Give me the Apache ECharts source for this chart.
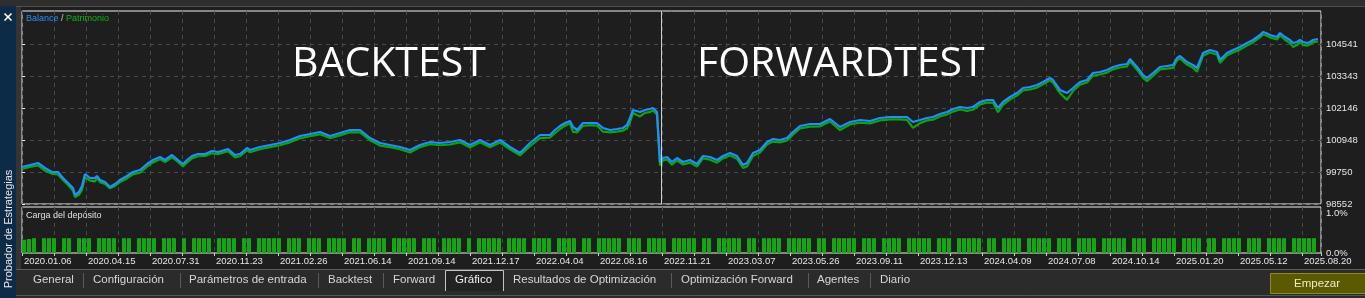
<!DOCTYPE html>
<html><head><meta charset="utf-8">
<script src="https://cdn.jsdelivr.net/npm/echarts@6/dist/echarts.min.js"></script>
<style>html,body{margin:0;padding:0;background:#1e1e1e;overflow:hidden}#c{width:1365px;height:298px}</style>
</head><body><div id="c"></div>
<script>
// ---- data (x = deal number along the tester graph) ----
const dealIndex = [0,8,16,23,30,36,41,46,51,53,57,60,63,68,73,75,78,83,88,93,98,105,111,118,125,131,138,143,150,156,161,165,170,176,183,190,196,206,213,218,225,228,238,248,258,268,278,288,298,308,318,328,338,348,358,368,378,388,398,408,418,428,438,448,458,468,478,488,498,508,518,528,533,538,543,548,551,555,561,568,575,581,588,595,601,605,608,611,618,623,628,631,635,637,638,641,645,650,655,661,668,675,681,688,695,701,708,715,721,725,731,738,745,751,758,765,771,778,788,798,808,818,828,838,848,858,868,878,885,891,898,905,911,918,925,931,938,945,951,958,965,971,976,981,988,995,1001,1008,1015,1021,1028,1031,1038,1045,1051,1058,1065,1071,1078,1085,1091,1098,1105,1108,1115,1121,1125,1131,1138,1145,1151,1155,1158,1165,1171,1175,1181,1188,1195,1198,1205,1211,1218,1225,1231,1238,1241,1244,1248,1255,1258,1263,1268,1271,1275,1278,1281,1285,1288,1291,1296];
const balance = [99937,100012,100087,99899,99750,99750,99525,99338,99151,98889,99001,99226,99675,99525,99525,99600,99450,99375,99188,99301,99450,99600,99750,99825,100049,100199,100311,100199,100386,100199,100049,100199,100349,100424,100424,100536,100498,100611,100386,100424,100648,100573,100686,100760,100835,100948,101097,101172,101247,101097,101210,101322,101322,101022,100835,100760,100686,100573,100760,100873,100835,100873,100948,100760,100948,100760,100948,100686,100461,100835,101135,101135,101322,101472,101584,101659,101434,101322,101584,101584,101584,101397,101322,101359,101397,101509,101771,102070,101996,102070,102108,102145,101996,101958,100124,100274,100311,100124,100274,100124,100199,100049,100349,100311,100199,100349,100461,100349,100012,100087,100461,100573,100873,100985,100948,101022,101247,101472,101546,101546,101734,101434,101621,101696,101659,101771,101808,101808,101808,101621,101696,101771,101808,101921,101996,102108,102183,102145,102183,102370,102445,102445,102145,102370,102557,102707,102894,102931,103006,103118,103268,103193,102819,102707,102894,103118,103193,103455,103493,103568,103680,103755,103792,103979,103680,103380,103268,103455,103680,103717,103755,104017,104092,103867,103755,103642,104204,104316,104241,103942,104204,104316,104429,104578,104691,104878,104990,104953,104878,104803,104953,104803,104691,104578,104616,104691,104616,104578,104616,104691,104728];
const equity = [99860,99940,100000,99800,99680,99660,99450,99260,99050,98810,98900,99080,99560,99430,99400,99520,99370,99300,99140,99230,99370,99510,99660,99720,99950,100110,100230,100120,100300,100130,99960,100100,100260,100340,100350,100450,100420,100530,100300,100340,100560,100490,100600,100680,100750,100860,101010,101090,101160,101020,101120,101240,101230,100940,100740,100680,100600,100480,100680,100790,100750,100780,100860,100670,100860,100680,100850,100600,100370,100720,101020,101040,101200,101360,101490,101570,101250,101230,101480,101500,101490,101260,101230,101260,101300,101380,101620,101960,101830,101960,101990,102050,101900,101880,100000,100180,100220,100020,100180,100030,100100,99950,100260,100210,100100,100260,100370,100250,99900,99960,100350,100480,100780,100890,100860,100930,101150,101380,101450,101460,101640,101320,101530,101600,101570,101680,101720,101720,101700,101400,101580,101680,101710,101830,101900,102010,102090,102040,102080,102270,102350,102340,101990,102260,102460,102610,102800,102840,102910,103030,103180,103090,102700,102450,102780,103020,103100,103360,103400,103470,103590,103660,103700,103890,103580,103270,103150,103350,103590,103620,103650,103920,104000,103770,103650,103500,104100,104220,104140,103830,104110,104220,104330,104480,104600,104790,104900,104860,104790,104710,104860,104700,104580,104430,104500,104600,104510,104480,104520,104600,104640];
// deposit load (%) per block of 5 deals
const depositLoad = [
.33,.35,.37,0,.37,.37,.37,0,.37,.37,0,.37,.37,.37,0,.37,.37,.37,.37,0,
.37,.37,0,.37,.37,.37,.37,0,.37,.37,.37,0,.37,0,.37,.37,.37,.37,0,.37,
.37,.37,.37,0,.37,.37,0,.37,.37,.37,.37,.37,0,.37,.37,.37,0,.37,.37,.37,
0,.37,.37,.37,.37,0,.37,.37,0,.37,.37,.37,.37,0,.37,.37,.37,.37,.37,0,
.37,.37,.37,0,.37,.37,.37,.37,0,.37,0,.37,.37,.37,.37,.37,0,.37,.37,.37,
.37,0,.37,.37,.37,.37,0,.37,.37,.37,.37,0,.37,.37,0,.37,.37,.37,.37,.37,
0,.37,.37,.37,0,.37,.37,.37,.37,0,.37,.37,.37,.37,.37,0,.37,.37,0,.37,
.37,.37,.37,.37,0,.37,.37,0,.37,.37,.37,.37,0,.37,.37,.37,.37,.37,0,.37,
.37,0,.37,.37,.37,.37,.37,0,.37,.37,.37,0,.37,.37,.37,.37,0,.37,.37,.37,
.37,.37,0,.37,.37,.37,0,.37,.37,.37,.37,.37,0,.37,.37,0,.37,.37,.37,.37,
0,.37,.37,.37,.37,.37,0,.37,.37,.37,0,.37,.37,.37,.37,0,.37,.37,.37,.37,
.37,0,.37,.37,.37,0,.37,.37,.37,.37,.37,0,.37,.37,.37,.37,0,.37,.37,0,
.37,.37,.37,.37,0,.37,.37,.37,0,.37,.37,.37,.37,0,.37,.37,.37,.37,.37,0];
const dateLabels = ['2020.01.06','2020.04.15','2020.07.31','2020.11.23','2021.02.26','2021.06.14','2021.09.14','2021.12.17','2022.04.04','2022.08.16','2022.11.21','2023.03.07','2023.05.26','2023.09.11','2023.12.13','2024.04.09','2024.07.08','2024.10.14','2025.01.20','2025.05.12','2025.08.20'];
const balanceTicks = [98552, 99750, 100948, 102146, 103343, 104541];
const loadTicks = [0, 1];
const forwardStart = 639;
const seriesNames = ['Balance', 'Patrimonio'];
const panelTitles = ['Carga del depósito'];
const bigLabels = ['BACKTEST', 'FORWARDTEST'];
const tabs = ['General','Configuración','Parámetros de entrada','Backtest','Forward','Gráfico','Resultados de Optimización','Optimización Forward','Agentes','Diario'];
const activeTab = 'Gráfico';
const sideTitle = 'Probador de Estrategias';
const buttonLabel = 'Empezar';

// ---- styling ----
const FONT = '"Liberation Sans", Arial, sans-serif';
const BLUE = '#1e90ff', GREEN = '#0da50d', BG = '#1e1e1e', TXT = '#e6e6e6';
const GRID_LINE = {show: true, lineStyle: {color: '#4a4a4a', width: 1, type: [4, 4]}};

const chart = echarts.init(document.getElementById('c'), null, {renderer: 'canvas'});

// layout for decorations
const tabX = [33, 93, 189, 328, 393, 455, 513, 681, 817, 880];
const sepX = [83, 180, 318, 383, 671, 808, 870];
const g = [];
g.push({type: 'rect', z: 1, shape: {x: 0, y: 0, width: 1365, height: 6}, style: {fill: '#2e2e2e'}});
g.push({type: 'line', z: 1, shape: {x1: 16, y1: 6.5, x2: 1365, y2: 6.5}, style: {stroke: '#4e4e4e', lineWidth: 1}});
g.push({type: 'rect', z: 1, shape: {x: 0, y: 6, width: 16, height: 292}, style: {fill: '#0c2b47'}});
g.push({type: 'rect', z: 1, shape: {x: 16, y: 7, width: 5, height: 262}, style: {fill: '#343434'}});
g.push({type: 'line', z: 5, shape: {x1: 4.5, y1: 13.5, x2: 11.5, y2: 20.5}, style: {stroke: '#ffffff', lineWidth: 1.6}});
g.push({type: 'line', z: 5, shape: {x1: 11.5, y1: 13.5, x2: 4.5, y2: 20.5}, style: {stroke: '#ffffff', lineWidth: 1.6}});
g.push({type: 'text', z: 5, x: 9, y: 229, rotation: Math.PI / 2,
  style: {text: sideTitle, fill: '#e8e8e8', font: '11px ' + FONT, align: 'center', verticalAlign: 'middle', textAlign: 'center', textVerticalAlign: 'middle'}});
// tab bar
g.push({type: 'rect', z: 1, shape: {x: 16, y: 269, width: 1349, height: 29}, style: {fill: '#2b2b2b'}});
g.push({type: 'line', z: 2, shape: {x1: 16, y1: 269.5, x2: 1365, y2: 269.5}, style: {stroke: '#5c5c5c', lineWidth: 1}});
g.push({type: 'line', z: 2, shape: {x1: 16, y1: 295.5, x2: 1365, y2: 295.5}, style: {stroke: '#555555', lineWidth: 1}});
const ai = tabs.indexOf(activeTab);
g.push({type: 'rect', z: 2, shape: {x: 445, y: 270, width: 58, height: 21}, style: {fill: '#222222'}});
g.push({type: 'polyline', z: 3, shape: {points: [[445.5, 291], [445.5, 270.5], [503.5, 270.5], [503.5, 291]]}, style: {stroke: '#c4c4c4', lineWidth: 1, fill: null}});
tabs.forEach((t, i) => {
  g.push({type: 'text', z: 5, x: tabX[i], y: 280,
    style: {text: t, fill: i === ai ? '#f0f0f0' : '#d6d6d6', font: '11.5px ' + FONT, align: 'left', verticalAlign: 'middle', textAlign: 'left', textVerticalAlign: 'middle'}});
});
sepX.forEach(x => g.push({type: 'line', z: 4, shape: {x1: x + 0.5, y1: 273, x2: x + 0.5, y2: 288}, style: {stroke: '#5a5a5a', lineWidth: 1}}));
// button
g.push({type: 'rect', z: 4, shape: {x: 1270.5, y: 273.5, width: 95, height: 20}, style: {fill: '#5b5a00', stroke: '#8d8b1f', lineWidth: 1}});
g.push({type: 'text', z: 5, x: 1317, y: 284,
  style: {text: buttonLabel, fill: '#ecebc8', font: '11.5px ' + FONT, align: 'center', verticalAlign: 'middle', textAlign: 'center', textVerticalAlign: 'middle'}});
// big labels
[292, 697].forEach((x, i) => g.push({type: 'text', z: 10, x: x, y: 64,
  style: {text: bigLabels[i], fill: '#ffffff', font: '41px "Open Sans", sans-serif', align: 'left', verticalAlign: 'middle', textAlign: 'left', textVerticalAlign: 'middle'}}));

const xCommon = {type: 'value', min: 0, max: 1299, interval: 32, axisLine: {show: false}, splitLine: GRID_LINE};

chart.setOption({
  animation: false,
  backgroundColor: BG,
  title: [
    {left: 26, top: 14, padding: 0, text: '{b|' + seriesNames[0] + '} / {p|' + seriesNames[1] + '}',
      textStyle: {fontSize: 9, fontWeight: 'normal', fontFamily: FONT, color: '#c8c8c8',
        rich: {b: {color: '#2a8cff', fontSize: 9, fontFamily: FONT}, p: {color: '#14b014', fontSize: 9, fontFamily: FONT}}}},
    {left: 26, top: 211, padding: 0, text: panelTitles[0],
      textStyle: {fontSize: 9, fontWeight: 'normal', fontFamily: FONT, color: '#e0e0e0'}}
  ],
  grid: [
    {left: 22, top: 11, width: 1299, height: 193, show: true, borderColor: '#efefef', borderWidth: 1, backgroundColor: BG, outerBoundsMode: 'none', containLabel: false},
    {left: 22, top: 207, width: 1299, height: 46, show: true, borderColor: '#efefef', borderWidth: 1, backgroundColor: BG, outerBoundsMode: 'none', containLabel: false}
  ],
  xAxis: [
    Object.assign({}, xCommon, {gridIndex: 0, axisTick: {show: false}, axisLabel: {show: false}}),
    Object.assign({}, xCommon, {gridIndex: 1, axisTick: {show: true, length: 3, lineStyle: {color: '#cfcfcf'}},
      axisLabel: {show: true, align: 'left', margin: 3, padding: [0, 0, 0, 2], color: TXT, fontFamily: FONT, fontSize: 9.5,
        formatter: v => (v % 64 === 0 && dateLabels[v / 64]) ? dateLabels[v / 64] : ''}})
  ],
  yAxis: [
    {gridIndex: 0, type: 'value', position: 'right', min: 98552, max: 105776,
      axisLine: {show: false},
      axisTick: {show: true, length: 3, lineStyle: {color: '#e8e8e8'}, customValues: balanceTicks},
      axisLabel: {customValues: balanceTicks, color: TXT, fontFamily: FONT, fontSize: 9.5, margin: 5, formatter: v => String(Math.round(v))},
      splitLine: GRID_LINE},
    {gridIndex: 1, type: 'value', position: 'right', min: 0, max: 1.15, z: 3,
      axisLine: {show: false},
      axisTick: {show: false, customValues: loadTicks},
      axisLabel: {customValues: loadTicks, color: TXT, fontFamily: FONT, fontSize: 9.5, margin: 5, formatter: v => v.toFixed(1) + '%'},
      splitLine: {show: false}}
  ],
  graphic: {elements: g},
  series: [
    {type: 'line', name: seriesNames[1], xAxisIndex: 0, yAxisIndex: 0, z: 2, symbol: 'none', showSymbol: false,
      data: dealIndex.map((d, i) => [d, equity[i]]), lineStyle: {color: GREEN, width: 2.2}},
    {type: 'line', name: seriesNames[0], xAxisIndex: 0, yAxisIndex: 0, z: 3, symbol: 'none', showSymbol: false,
      data: dealIndex.map((d, i) => [d, balance[i]]), lineStyle: {color: BLUE, width: 2.2},
      markLine: {silent: true, symbol: 'none', label: {show: false}, lineStyle: {color: '#cfcfcf', width: 1, type: 'solid'},
        data: [{xAxis: forwardStart}]}},
    {type: 'bar', name: panelTitles[0], xAxisIndex: 1, yAxisIndex: 1, barWidth: 4, z: 2,
      itemStyle: {color: '#13a813'},
      data: depositLoad.map((v, i) => [i * 5 + 2, v])}
  ]
});
</script></body></html>
